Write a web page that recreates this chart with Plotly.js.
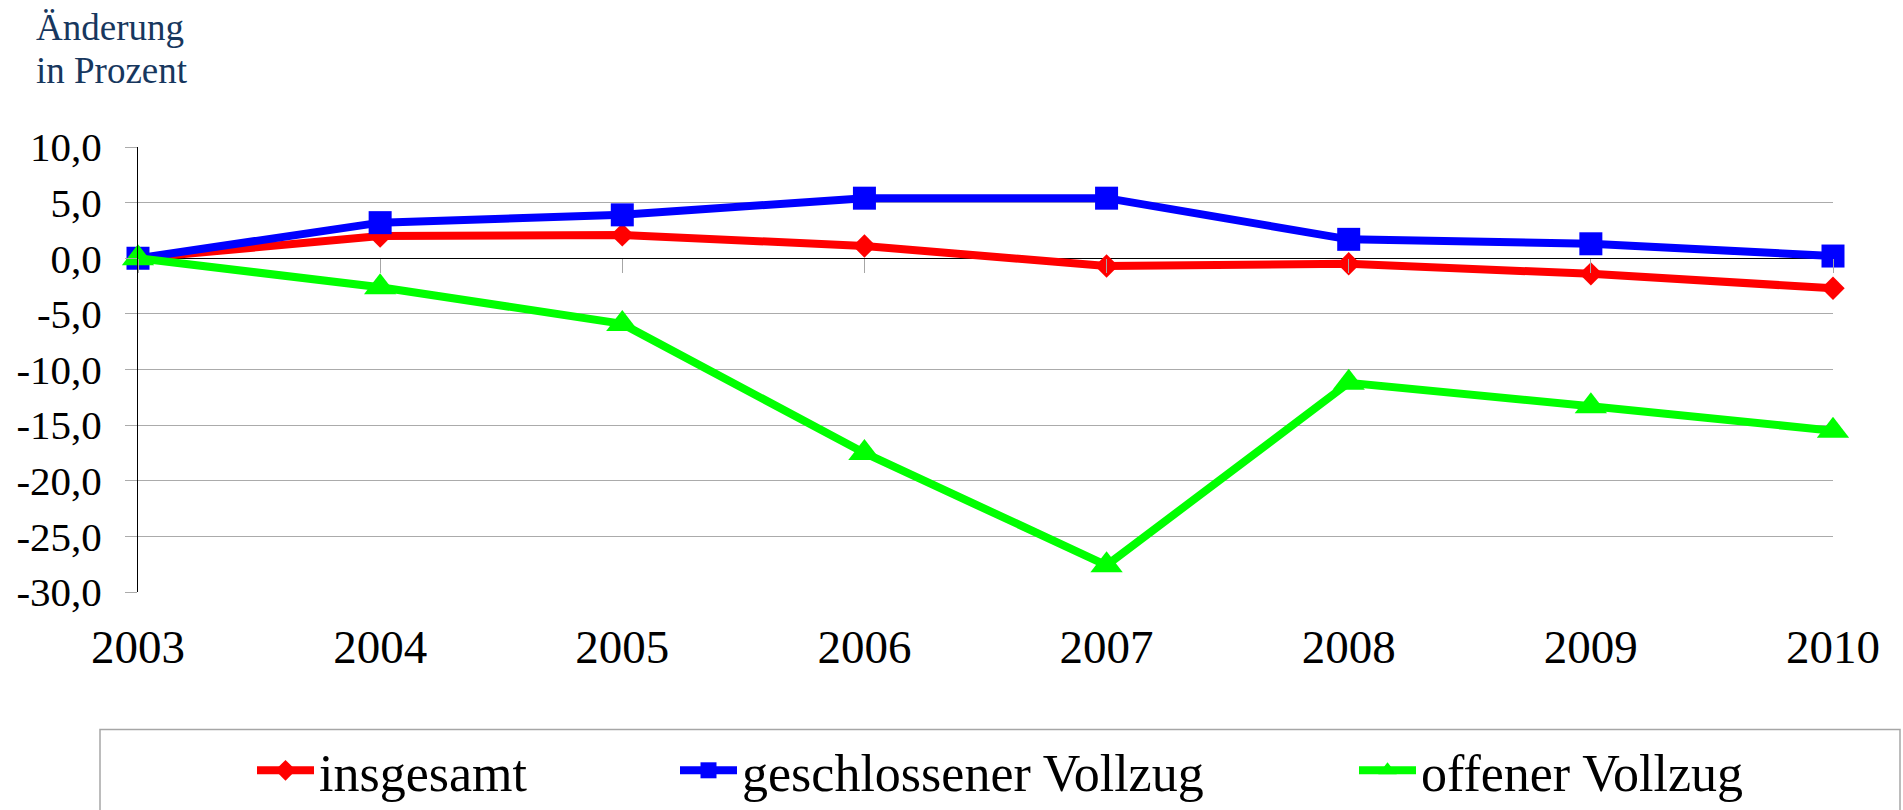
<!DOCTYPE html>
<html>
<head>
<meta charset="utf-8">
<script src="https://cdn.plot.ly/plotly-3.0.1.min.js"></script>
<style>
html,body{margin:0;padding:0;background:#fff;}
#chart{width:1903px;height:810px;}
</style>
</head>
<body>
<div id="chart"></div>
<script>
// ---- data ----
const years = [2003, 2004, 2005, 2006, 2007, 2008, 2009, 2010];
const insgesamt = [0, 2.0, 2.1, 1.1, -0.7, -0.5, -1.4, -2.7];
const geschlossen = [0, 3.2, 3.9, 5.4, 5.4, 1.7, 1.3, 0.2];
const offen = [0, -2.6, -5.9, -17.5, -27.6, -11.2, -13.3, -15.5];
const seriesNames = ["insgesamt", "geschlossener Vollzug", "offener Vollzug"];
const yTickVals = [10, 5, 0, -5, -10, -15, -20, -25, -30];
const yTickText = ["10,0", "5,0", "0,0", "-5,0", "-10,0", "-15,0", "-20,0", "-25,0", "-30,0"];
const xTickText = years.map(String);
const titleLines = ["Änderung", "in Prozent"];

const FONT = "Liberation Serif, Times New Roman, serif";
const W = 1903, H = 810;
const L = 138, R = 70, T = 147, B = 218;
const plotH = H - T - B;
function py(p){ return (H - B - p) / plotH; }   // pixel y -> paper y
function px(p){ return (p - L) / (W - L - R); } // pixel x -> paper x

function trace(name, y, color, symbol, size, legend){
  return {
    x: years, y: y, name: name, type: 'scatter', mode: 'lines+markers',
    line: {color: color, width: 8},
    marker: {symbol: symbol, size: size, color: color},
    cliponaxis: false, legend: legend, hoverinfo: 'x+y'
  };
}

const data = [
  trace(seriesNames[0], insgesamt, '#FF0000', 'diamond', 18, 'legend'),
  trace(seriesNames[1], geschlossen, '#0000FF', 'square', 23, 'legend2'),
  trace(seriesNames[2], offen, '#00FF00', 'triangle-up', 28, 'legend3'),
  // invisible trace carrying the tick marks on the zero line
  {x: years, y: years.map(()=>null), xaxis: 'x2', yaxis: 'y', showlegend: false, hoverinfo: 'skip', mode: 'lines'}
];

function leg(xPix){
  return {
    x: xPix / W, y: 1 - 730 / H, xref: 'container', yref: 'container',
    xanchor: 'left', yanchor: 'top', orientation: 'h',
    font: {family: FONT, size: 52, color: '#000'},
    bgcolor: 'rgba(0,0,0,0)', borderwidth: 0, itemwidth: 57
  };
}

const layout = {
  width: W, height: H,
  margin: {l: L, r: R, t: T, b: B, pad: 0},
  paper_bgcolor: '#fff', plot_bgcolor: '#fff',
  font: {family: FONT, color: '#000'},
  showlegend: true,
  xaxis: {
    range: [2003, 2010], tickvals: years, ticktext: xTickText,
    showgrid: false, zeroline: false, showline: false,
    ticks: '', tickfont: {family: FONT, size: 47, color: '#000'},
    ticklabelstandoff: 23, fixedrange: true
  },
  xaxis2: {
    range: [2003, 2010], overlaying: 'x', anchor: 'free', position: 0.75,
    tickvals: years, showticklabels: false, ticks: 'outside', ticklen: 14,
    tickcolor: '#A6A6A6', tickwidth: 1, showgrid: false, zeroline: false, showline: false
  },
  yaxis: {
    range: [-30, 10], tickvals: yTickVals, ticktext: yTickText,
    showgrid: true, gridcolor: '#ABABAB', gridwidth: 1,
    zeroline: true, zerolinecolor: '#000', zerolinewidth: 1.5,
    showline: true, linecolor: '#000', linewidth: 1,
    ticks: 'outside', ticklen: 12, tickcolor: '#ABABAB', tickwidth: 1,
    tickfont: {family: FONT, size: 41, color: '#000'},
    ticklabelstandoff: 15, fixedrange: true
  },
  legend: leg(252),
  legend2: leg(675),
  legend3: leg(1354),
  shapes: [{
    type: 'rect', xref: 'paper', yref: 'paper',
    x0: px(100), x1: px(1900), y0: py(830), y1: py(729.5),
    line: {color: '#A6A6A6', width: 1.5}, fillcolor: 'rgba(0,0,0,0)', layer: 'below'
  }],
  annotations: [
    {text: titleLines[0], xref: 'paper', yref: 'paper', x: px(34), y: py(27),
     xanchor: 'left', yanchor: 'middle', showarrow: false,
     font: {family: FONT, size: 37, color: '#17375E'}},
    {text: titleLines[1], xref: 'paper', yref: 'paper', x: px(34), y: py(70),
     xanchor: 'left', yanchor: 'middle', showarrow: false,
     font: {family: FONT, size: 37, color: '#17375E'}}
  ]
};

Plotly.newPlot('chart', data, layout, {displayModeBar: false, staticPlot: true});
</script>
</body>
</html>
